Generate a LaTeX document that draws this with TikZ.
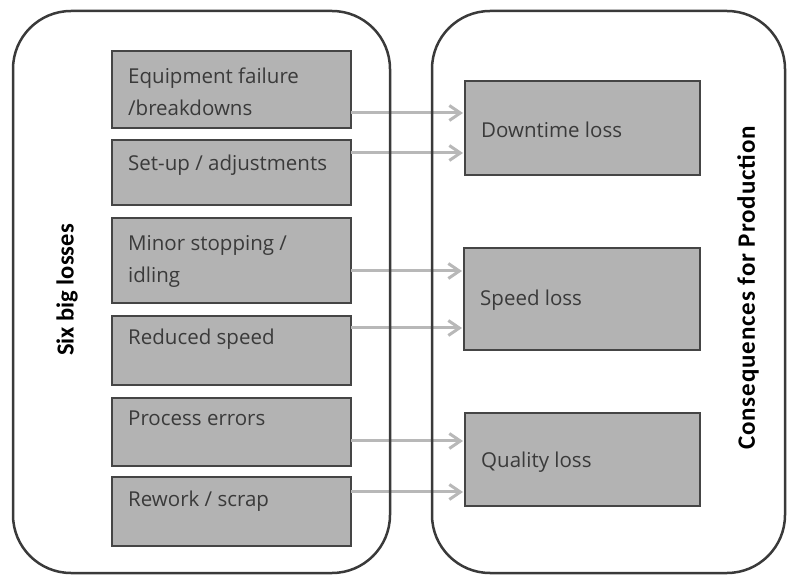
\documentclass[tikz,border=0pt]{standalone}
\usepackage{fontspec}
\setmainfont{Open Sans}
\newfontfamily\headfont{Carlito}
\usetikzlibrary{arrows.meta}

\definecolor{boxfill}{HTML}{B3B3B3}
\definecolor{boxline}{HTML}{454545}
\definecolor{frameline}{HTML}{3A3A3A}
\definecolor{flowline}{HTML}{B8B8B8}
\definecolor{ink}{HTML}{3A3A3A}

\tikzset{
  frame/.style={draw=frameline, line width=2.5pt, rounded corners=58pt},
  lossbox/.style={draw=boxline, fill=boxfill, line width=1.4pt, anchor=north west,
    inner sep=0pt, outer sep=0pt},
  boxtext/.style={anchor=north west, inner sep=0pt, align=left, text=ink,
    font=\fontsize{20.5}{32}\selectfont},
  sidelabel/.style={rotate=90, text=black, font=\headfont\bfseries\fontsize{24.5}{28}\selectfont},
  flow/.style={draw=flowline, line width=3pt,
    -{Straight Barb[length=11pt,width=15pt]}, shorten >=2pt}
}

\begin{document}
\begin{tikzpicture}[x=1pt,y=-1pt]
  \useasboundingbox (0,0) rectangle (788,577);

  % causes on the left
  \node[lossbox, minimum width=239pt, minimum height=77pt] (b1) at (112,51) {};
  \node[lossbox, minimum width=239pt, minimum height=65pt] (b2) at (112,140) {};
  \node[lossbox, minimum width=239pt, minimum height=85pt] (b3) at (112,218) {};
  \node[lossbox, minimum width=239pt, minimum height=69pt] (b4) at (112,316) {};
  \node[lossbox, minimum width=239pt, minimum height=68pt] (b5) at (112,398) {};
  \node[lossbox, minimum width=239pt, minimum height=69pt] (b6) at (112,477) {};

  \node[boxtext] at ([shift={(16pt,-10pt)}]b1.north west) {\strut Equipment failure\\/breakdowns};
  \node[boxtext] at ([shift={(16pt,-8pt)}]b2.north west) {\strut Set-up / adjustments};
  \node[boxtext] at ([shift={(16pt,-10pt)}]b3.north west) {\strut Minor stopping /\\idling};
  \node[boxtext] at ([shift={(16pt,-6pt)}]b4.north west) {\strut Reduced speed};
  \node[boxtext] at ([shift={(16pt,-5pt)}]b5.north west) {\strut Process errors};
  \node[boxtext] at ([shift={(16pt,-7pt)}]b6.north west) {\strut Rework / scrap};

  % consequences on the right
  \node[lossbox, minimum width=235pt, minimum height=94pt] (dt) at (465,81) {};
  \node[lossbox, minimum width=236pt, minimum height=102pt] (sp) at (464,248) {};
  \node[lossbox, minimum width=235pt, minimum height=93pt] (ql) at (465,413) {};

  \node[boxtext, anchor=west] at ([shift={(16pt,-2pt)}]dt.west) {Downtime loss};
  \node[boxtext, anchor=west] at ([shift={(16pt,-1pt)}]sp.west) {Speed loss};
  \node[boxtext, anchor=west] at ([shift={(16pt,-3pt)}]ql.west) {Quality loss};

  % connectors
  \path ([yshift=-23.5pt]b1.east) coordinate (s1)
        ([yshift=19.5pt]b2.east)  coordinate (s2)
        ([yshift=-10.5pt]b3.east) coordinate (s3)
        ([yshift=22.5pt]b4.east)  coordinate (s4)
        ([yshift=-9pt]b5.east)    coordinate (s5)
        ([yshift=19.5pt]b6.east)  coordinate (s6);
  \draw[flow] (s1) -- (s1 -| dt.west);
  \draw[flow] (s2) -- (s2 -| dt.west);
  \draw[flow] (s3) -- (s3 -| sp.west);
  \draw[flow] (s4) -- (s4 -| sp.west);
  \draw[flow] (s5) -- (s5 -| ql.west);
  \draw[flow] (s6) -- (s6 -| ql.west);

  % the two groups
  \draw[frame] (13,11) rectangle (390,573);
  \draw[frame] (432,11) rectangle (785,573);

  \node[sidelabel] (left) at (67,290) {Six big losses};
  \node[sidelabel, font=\headfont\bfseries\fontsize{25}{28}\selectfont\addfontfeature{LetterSpace=3.5}]
    (right) at (748,288) {Consequences for Production};
\end{tikzpicture}
\end{document}
